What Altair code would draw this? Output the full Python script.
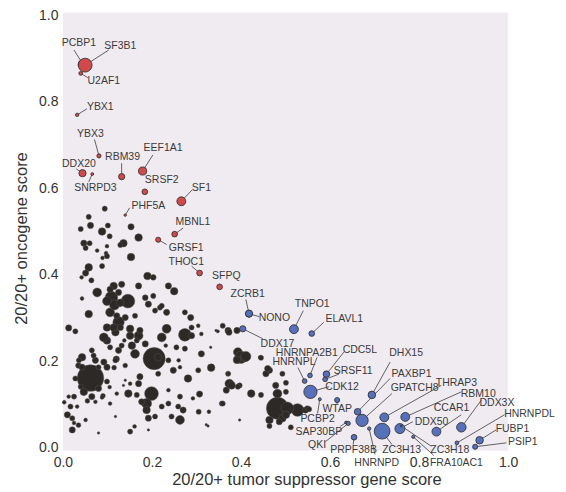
import altair as alt
import pandas as pd

# ---- unlabeled genes (dark circles): x = TSG score, y = OG score, r = relative marker size
dark_x = [0.094,0.058,0.062,0.040,0.088,0.101,0.105,0.153,0.170,0.136,0.129,0.047,0.060,0.051,0.077,0.099,0.097,0.089,0.099,0.153,
          0.058,0.088,0.042,0.064,0.051,0.190,0.203,0.114,0.132,0.170,0.077,0.109,0.146,0.125,0.237,0.250,0.185,0.203,0.192,0.043,
          0.058,0.106,0.125,0.151,0.170,0.207,0.218,0.233,0.274,0.287,0.013,0.028,0.233,0.274,0.289,0.222,0.099,0.125,0.155,0.185,
          0.205,0.162,0.062,0.043,0.073,0.092,0.028,0.047,0.025,0.017,0.010,0.021,0.021,0.032,0.051,0.173,0.199,0.188,0.188,0.147,
          0.166,0.106,0.073,0.151,0.161,0.080,0.237,0.263,0.270,0.244,0.307,0.281,0.248,0.237,0.260,0.274,0.311,0.333,0.304,0.289,
          0.311,0.332,0.305,0.328,0.357,0.374,0.397,0.371,0.371,0.391,0.393,0.400,0.344,0.322,0.192,0.118,0.136,0.092,0.118,0.099,
          0.129,0.065,0.138,0.140,0.013,0.035,0.090,0.055,0.105,0.115,0.035,0.003,0.120,0.140,
          0.359,0.373,0.348,0.409,0.391,0.443,0.464,0.456,0.493,0.372,0.367,0.393,0.423,0.445,0.478,0.482,0.527,0.504,0.545,0.493,
          0.486,0.464,0.512,0.501,0.397,0.359,0.326,0.259,0.222,0.304,
          0.411,0.379,0.445,0.460,0.478,0.501,0.482,0.501,0.549,0.464,0.553,
          0.106,0.116,0.099,0.129,0.140,0.121,0.114,0.162,0.151,0.173,0.166,0.132,0.106,0.069,0.036,0.043,0.080,0.099,0.118,0.040,
          0.080,0.099,0.065,0.088,0.121,0.025,0.151,0.214,0.170,0.214,0.222,0.207,0.192,0.177,0.237,0.263,0.292,0.231,0.255,0.263]
dark_y = [0.553,0.534,0.514,0.506,0.500,0.514,0.489,0.511,0.486,0.473,0.469,0.473,0.473,0.462,0.456,0.466,0.450,0.439,0.443,0.441,
          0.417,0.420,0.394,0.387,0.404,0.397,0.394,0.374,0.378,0.374,0.359,0.347,0.339,0.359,0.374,0.362,0.347,0.351,0.332,0.345,
          0.309,0.313,0.290,0.275,0.259,0.317,0.324,0.313,0.313,0.301,0.277,0.269,0.275,0.261,0.278,0.255,0.248,0.225,0.236,0.240,
          0.206,0.217,0.161,0.209,0.202,0.198,0.160,0.129,0.118,0.095,0.076,0.068,0.041,0.095,0.064,0.164,0.125,0.102,0.087,0.125,
          0.122,0.102,0.106,0.037,0.049,0.034,0.102,0.064,0.087,0.072,0.124,0.160,0.179,0.202,0.202,0.229,0.217,0.185,0.179,0.259,
          0.263,0.232,0.083,0.083,0.102,0.148,0.144,0.171,0.271,0.271,0.221,0.209,0.271,0.053,0.041,0.072,0.144,0.255,0.267,0.278,
          0.278,0.225,0.248,0.156,0.118,0.190,0.120,0.108,0.140,0.185,0.052,0.105,0.205,0.190,
          0.282,0.267,0.269,0.209,0.203,0.209,0.179,0.171,0.171,0.171,0.133,0.141,0.125,0.122,0.125,0.091,0.087,0.091,0.087,0.068,
          0.060,0.050,0.047,0.076,0.064,0.102,0.050,0.095,0.328,0.282,
          0.211,0.144,0.208,0.183,0.144,0.150,0.125,0.129,0.091,0.064,0.089,
          0.366,0.330,0.339,0.335,0.301,0.305,0.278,0.305,0.259,0.271,0.248,0.236,0.232,0.213,0.202,0.186,0.186,0.186,0.202,0.141,
          0.137,0.153,0.118,0.116,0.125,0.057,0.148,0.209,0.148,0.171,0.095,0.072,0.068,0.106,0.133,0.118,0.114,0.236,0.232,0.186]
dark_r = [2.7,2.7,3.3,2.7,4.0,2.7,2.7,3.3,4.0,4.0,2.7,3.3,2.7,2.7,2.0,2.0,2.0,2.0,2.7,4.0,
          4.0,2.7,2.0,2.7,3.3,4.0,3.0,4.0,3.3,3.3,4.7,6.7,7.3,3.3,3.3,4.0,3.0,2.7,3.3,2.0,
          4.0,4.7,6.0,4.0,4.7,2.7,2.7,3.3,2.7,3.3,3.3,2.7,4.7,6.7,2.7,4.7,4.0,3.3,4.0,3.3,
          11.7,4.7,14.0,4.0,3.3,3.3,2.7,4.0,2.7,2.7,3.3,2.7,3.3,2.0,2.0,3.3,7.3,5.3,4.0,4.0,
          2.7,2.0,2.0,2.7,2.0,1.3,2.7,4.7,3.3,2.7,3.3,4.0,3.3,2.7,2.0,2.7,3.3,4.0,2.7,3.3,
          2.0,1.3,2.7,2.0,2.7,4.7,2.7,2.7,3.3,3.3,4.7,6.5,1.3,1.3,1.3,1.3,1.3,4.7,4.0,4.0,
          3.3,2.7,2.0,1.3,2.0,3.0,2.5,2.5,2.0,2.5,2.5,2.0,3.3,2.5,
          2.7,3.3,1.7,4.7,4.0,2.0,3.3,3.3,2.7,2.0,3.3,2.7,4.0,2.7,2.7,11.7,6.7,6.7,3.3,4.0,
          3.3,2.7,2.7,4.0,1.3,2.7,1.3,2.7,2.7,2.0,
          5.3,4.0,2.7,3.3,3.3,2.7,4.7,2.7,2.7,4.0,2.7,
          3.3,5.3,4.7,4.0,3.3,3.3,4.0,2.7,4.0,3.3,2.7,2.7,2.7,2.7,2.7,3.3,2.7,3.3,2.7,2.7,
          3.3,2.7,3.3,2.0,2.0,2.0,2.0,4.0,3.3,2.7,2.7,2.7,3.3,3.3,2.0,2.7,2.0,2.0,2.7,2.0]

# ---- labeled genes
gene_names = ["PCBP1","SF3B1","U2AF1","YBX1","YBX3","DDX20","SNRPD3","RBM39","EEF1A1","SRSF2","SF1","PHF5A",
              "MBNL1","GRSF1","THOC1","SFPQ",
              "ZCRB1","NONO","DDX17","TNPO1","ELAVL1","HNRNPA2B1","HNRNPL","CDC5L","SRSF11","CDK12","PCBP2","WTAP",
              "SAP30BP","QKI","PRPF38B","HNRNPD","ZC3H13","DHX15","PAXBP1","GPATCH8","THRAP3","RBM10","DDX3X","CCAR1",
              "DDX50","HNRNPDL","FUBP1","PSIP1","ZC3H18","FRA10AC1"]
gene_class = ["oncogene"]*16 + ["tsg"]*30
gene_x = [0.045,0.050,0.040,0.032,0.081,0.044,0.066,0.132,0.179,0.184,0.266,0.140,0.251,0.214,0.307,0.352,
          0.418,0.418,0.404,0.519,0.559,0.555,0.543,0.592,0.589,0.556,0.577,0.616,0.636,0.641,0.654,0.688,0.717,
          0.694,0.662,0.672,0.722,0.769,0.895,0.839,0.757,0.885,0.936,0.926,0.760,0.787]
gene_y = [0.887,0.885,0.866,0.770,0.675,0.635,0.633,0.627,0.640,0.592,0.570,0.538,0.494,0.481,0.404,0.372,
          0.310,0.310,0.275,0.274,0.264,0.167,0.154,0.170,0.158,0.129,0.112,0.110,0.058,0.056,0.024,0.044,0.038,
          0.122,0.083,0.063,0.070,0.071,0.047,0.037,0.044,0.011,0.017,0.002,0.050,0.025]
gene_r = [5.0,7.3,2.0,1.8,2.2,3.8,1.5,3.3,4.3,3.0,4.7,1.3,3.0,2.7,3.0,3.0,
          3.7,3.7,3.3,4.7,3.0,2.5,2.5,3.5,2.5,7.0,1.6,2.7,1.5,2.2,3.0,1.8,8.3,
          4.0,3.5,6.5,4.7,4.7,5.0,4.7,5.3,2.0,4.0,2.7,1.0,1.7]
label_x = [0.036,0.129,0.092,0.084,0.062,0.036,0.073,0.134,0.225,0.222,0.311,0.192,0.292,0.277,0.277,0.367,
           0.415,0.475,0.482,0.560,0.632,0.548,0.519,0.667,0.652,0.627,0.572,0.616,0.575,0.571,0.653,0.705,0.761,
           0.771,0.783,0.790,0.884,0.933,0.975,0.873,0.828,1.048,1.010,1.033,0.869,0.884]
label_y = [0.937,0.930,0.848,0.787,0.725,0.657,0.601,0.672,0.693,0.619,0.601,0.560,0.521,0.462,0.430,0.397,
           0.355,0.301,0.240,0.332,0.297,0.219,0.197,0.226,0.177,0.141,0.066,0.089,0.036,0.007,-0.005,-0.035,-0.005,
           0.219,0.171,0.138,0.150,0.125,0.104,0.091,0.060,0.078,0.043,0.012,-0.005,-0.035]
line_x = [0.025,0.103,0.056,0.054,0.071,0.030,0.058,0.132,0.202,None,0.290,0.150,0.270,0.233,0.289,None,
          0.411,0.441,0.449,0.540,0.586,0.571,0.528,0.631,0.620,0.598,0.572,0.616,0.623,0.590,0.652,0.701,0.739,
          0.735,0.735,0.739,0.850,0.895,0.940,0.895,0.786,0.992,0.973,0.996,0.828,0.833]
line_y = [0.920,0.920,0.856,0.784,0.713,0.645,0.615,0.658,0.677,None,0.596,0.555,0.508,0.470,0.420,None,
          0.343,0.303,0.252,0.317,0.290,0.209,0.185,0.221,0.170,0.141,0.079,0.101,0.049,0.014,0.007,-0.016,0.007,
          0.198,0.160,0.125,0.144,0.129,0.110,0.076,0.060,0.076,0.041,0.011,0.003,-0.018]

x_ticks = [0.0, 0.2, 0.4, 0.6, 0.8, 1.0]
y_ticks = [0.0, 0.2, 0.4, 0.6, 0.8, 1.0]

dark_df = pd.DataFrame({"tsg": dark_x, "og": dark_y, "n": [r * r for r in dark_r]})
genes_df = pd.DataFrame({"gene": gene_names, "cls": gene_class, "tsg": gene_x, "og": gene_y,
                         "n": [r * r for r in gene_r], "lx": label_x, "ly": label_y,
                         "sx": line_x, "sy": line_y})
lines_df = genes_df.dropna(subset=["sx"])

xs = alt.Scale(domain=[0, 1], nice=False, zero=False)
ys = alt.Scale(domain=[-0.007, 1.007], nice=False, zero=False)
size_scale = alt.Scale(type="linear", domain=[0, 100], range=[0, 360], zero=True)

x_axis = alt.Axis(values=x_ticks, format=".1f", title="20/20+ tumor suppressor gene score",
                  titleX=244, titleY=29, titleBaseline="middle", titleAlign="center")
y_axis = alt.Axis(values=y_ticks, format=".1f", title="20/20+ oncogene score",
                  titleX=-41, titleY=226, titleBaseline="middle", titleAlign="center")

base_dark = alt.Chart(dark_df).mark_circle(color="#2c2926", opacity=1, stroke="#55514d", strokeWidth=0.5).encode(
    x=alt.X("tsg:Q", scale=xs, axis=x_axis),
    y=alt.Y("og:Q", scale=ys, axis=y_axis),
    size=alt.Size("n:Q", scale=size_scale, legend=None),
)

leaders = alt.Chart(lines_df).mark_rule(color="#3c3c3c", strokeWidth=0.8).encode(
    x=alt.X("sx:Q", scale=xs), y=alt.Y("sy:Q", scale=ys),
    x2="tsg:Q", y2="og:Q",
)

colored = alt.Chart(genes_df).mark_circle(opacity=1, stroke="#2a2a2a", strokeWidth=0.8).encode(
    x=alt.X("tsg:Q", scale=xs), y=alt.Y("og:Q", scale=ys),
    size=alt.Size("n:Q", scale=size_scale, legend=None),
    color=alt.Color("cls:N", scale=alt.Scale(domain=["oncogene", "tsg"], range=["#cf4a4a", "#5670ba"]), legend=None),
)

labels = alt.Chart(genes_df).mark_text(font="Liberation Sans", fontSize=10.5, color="#3a3a3a",
                                       align="center", baseline="middle").encode(
    x=alt.X("lx:Q", scale=xs), y=alt.Y("ly:Q", scale=ys), text="gene:N",
)

chart = alt.layer(base_dark, leaders, colored, labels).properties(
    width=446, height=439,
    autosize=alt.AutoSizeParams(type="none"),
    padding={"left": 55, "top": 4, "right": 50, "bottom": 40},
).configure_view(fill="#f0ebf1", stroke=None).configure_axis(
    domain=False, ticks=False, grid=False, labelFlush=False,
    labelFont="Liberation Sans", labelFontSize=14, labelColor="#333333", labelPadding=5,
    titleFont="Liberation Sans", titleFontSize=16.5, titleFontWeight="normal", titleColor="#333333",
)

chart.save("out.html", embed_options={"renderer": "svg", "actions": False})
